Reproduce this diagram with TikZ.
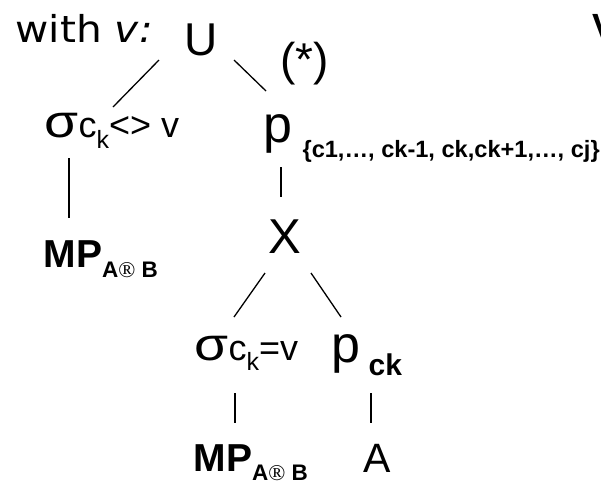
\documentclass[tikz,border=0pt]{standalone}
\usepackage{fontspec}
\setmainfont{Liberation Sans}
\newfontfamily\verdfont{DejaVu Sans}
\newfontfamily\serffont{Liberation Serif}
\newcommand\fsz[1]{\fontsize{#1}{#1}\selectfont}
\newcommand\low[2]{\raisebox{-#1pt}{#2}}
\newcommand\sig{\scalebox{1.2}[1]{\fsz{46}σ}}

\begin{document}
\begin{tikzpicture}[x=1pt, y=-1pt, line width=1.3pt]
    \tikzset{ txt/.style={inner sep=0pt, anchor=base west},
              ctr/.style={inner sep=0pt, anchor=base},
              arm/.style={draw, line cap=butt} }
    \useasboundingbox (0,0) rectangle (601,483);

    \node[txt] (with) at (15,42) {\scalebox{1.1}[1]{\verdfont\fsz{37}with \textit{v:}}};
    \node[ctr] (u) at (201,55) {\fsz{46}U};
    \node[txt] (star) at (280,75) {\fsz{46}(*)};
    \node[txt] (cut) at (592,38) {\fsz{35}\bfseries V};

    \node[txt] (sl) at (44,137) {\sig{\fsz{36}c\low{11}{\fsz{25}k}<> v}};
    \node[txt] (pt) at (263,142) {{\fsz{52}p}\hspace{10pt}\low{15}{\fsz{23.6}\bfseries \{c1,…, ck-1, ck,ck+1,…, cj\}}};
    \node[txt] (ml) at (43,267) {{\fsz{39}\bfseries MP}\low{10}{\fsz{22.5}\bfseries A{\serffont\mdseries ®} B}};
    \node[ctr] (x) at (284.5,253) {\fsz{49}X};

    \node[txt] (sb) at (194,360) {\sig{\fsz{36}c\low{10}{\fsz{25}k}=v}};
    \node[txt] (pc) at (331,362) {{\fsz{52}p}\hspace{8pt}\low{13}{\fsz{30}\bfseries ck}};
    \node[txt] (mb) at (193,471) {{\fsz{39}\bfseries MP}\low{9}{\fsz{22.5}\bfseries A{\serffont\mdseries ®} B}};
    \node[ctr] (a) at (377.5,472) {\fsz{41}A};

    % tree arms
    \draw[arm] ([shift={(-42,5)}]u.base) -- ([shift={(69,-30)}]sl.base west);
    \draw[arm] ([shift={(33,5)}]u.base) -- ([shift={(3,-51)}]pt.base west);
    \draw[arm] ([shift={(25,21)}]sl.base west) -- ([shift={(26,-49)}]ml.base west);
    \draw[arm] ([shift={(18,25)}]pt.base west) -- ([shift={(-3.5,-56)}]x.base);
    \draw[arm] ([shift={(-19.5,20)}]x.base) -- ([shift={(40,-43)}]sb.base west);
    \draw[arm] ([shift={(26.5,20)}]x.base) -- ([shift={(10,-45)}]pc.base west);
    \draw[arm] ([shift={(41,33)}]sb.base west) -- ([shift={(42,-48)}]mb.base west);
    \draw[arm] ([shift={(40,31)}]pc.base west) -- ([shift={(-6.5,-49)}]a.base);
\end{tikzpicture}
\end{document}
